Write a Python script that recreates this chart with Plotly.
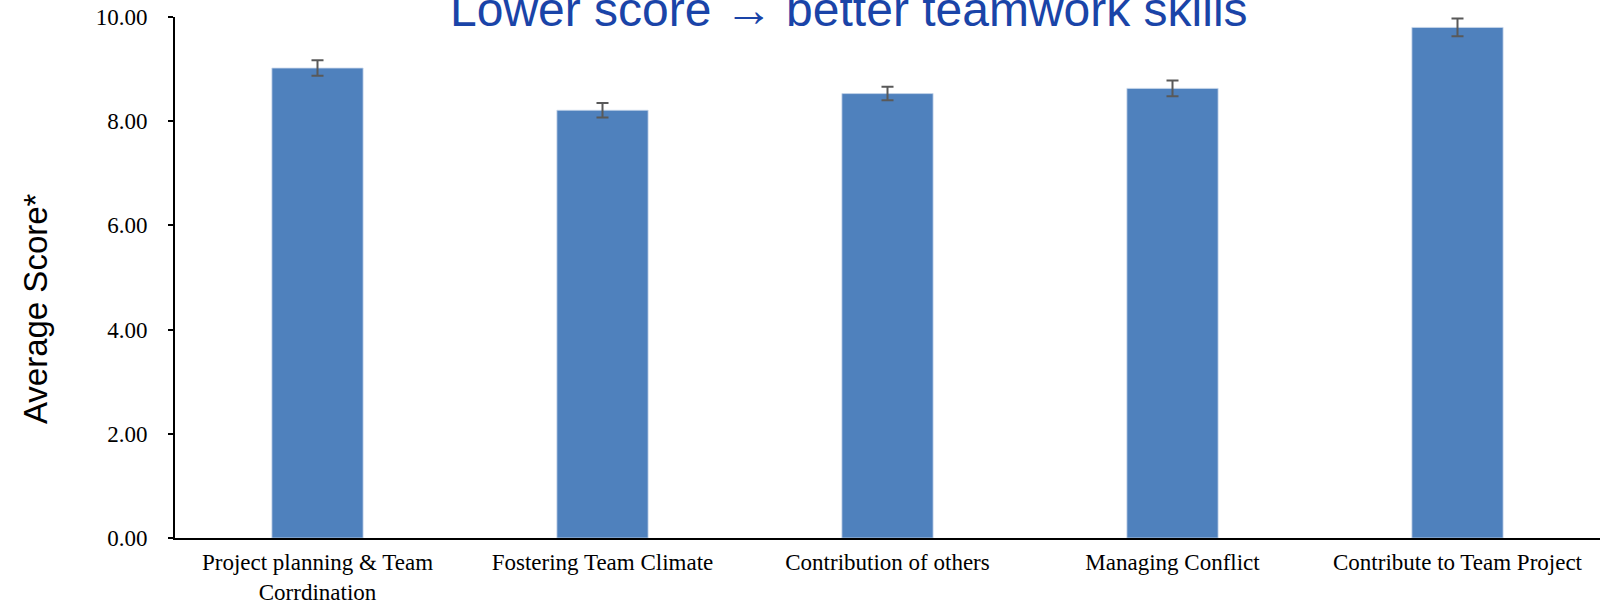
import plotly.graph_objects as go

categories = ["Project planning & Team<br>Corrdination", "Fostering Team Climate",
              "Contribution of others", "Managing Conflict", "Contribute to Team Project"]
scores = [9.02, 8.21, 8.53, 8.63, 9.80]
errors = [0.15, 0.14, 0.13, 0.15, 0.17]
y_ticks = [0, 2, 4, 6, 8, 10]
y_tick_labels = ["0.00", "2.00", "4.00", "6.00", "8.00", "10.00"]
title_text = "Lower score \u2192 better teamwork skills"
y_title = "Average Score*"

fig = go.Figure()
fig.add_trace(go.Bar(
    x=categories, y=scores,
    marker=dict(color="#4f81bd", line=dict(color="rgba(200,215,235,0.8)", width=1)),
    error_y=dict(type="data", array=errors, visible=True, color="#595959", thickness=2, width=6),
))

fig.update_layout(
    width=1600, height=604,
    margin=dict(l=175, r=0, t=17, b=66, autoexpand=False),
    plot_bgcolor="white", paper_bgcolor="white",
    bargap=0.68,
    showlegend=False,
    xaxis=dict(showline=True, linecolor="black", linewidth=2, ticks="", automargin=False,
               ticklabelstandoff=2,
               tickfont=dict(family="Liberation Serif", size=23, color="black"),
               showgrid=False, range=[-0.5, 4.5]),
    yaxis=dict(range=[0, 10], tickvals=y_ticks, ticktext=y_tick_labels, automargin=False,
               showline=True, linecolor="black", linewidth=2, ticks="outside",
               ticklen=5, tickwidth=2, tickcolor="black", showgrid=False, zeroline=False,
               ticklabelstandoff=16,
               tickfont=dict(family="Liberation Serif", size=23, color="black")),
    annotations=[
        dict(text=title_text, xref="paper", yref="paper", x=0.473, y=1, yanchor="bottom",
             yshift=-21, showarrow=False,
             font=dict(family="Liberation Sans", size=48, color="#1a44a8")),
        dict(text=y_title, xref="paper", yref="paper", x=-0.098, y=0.44, xanchor="center",
             yanchor="middle", textangle=-90, showarrow=False,
             font=dict(family="Liberation Sans", size=33, color="black")),
    ],
)

fig.write_html("out.html", config={"displayModeBar": False},
               post_script="document.body.style.margin='0';document.body.style.overflow='hidden';")
